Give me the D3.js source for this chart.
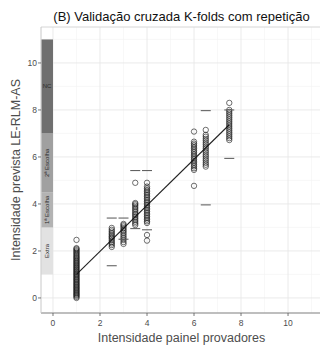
<!DOCTYPE html>
<html><head><meta charset="utf-8">
<script src="https://cdn.jsdelivr.net/npm/d3@7"></script>
<style>body{margin:0;background:#fff}svg{display:block;font-family:"Liberation Sans",Arial,sans-serif}</style>
</head><body><svg id="c" width="321" height="347"></svg>
<script>
const title = "(B) Validação cruzada K-folds com repetição";
const xTitle = "Intensidade painel provadores";
const yTitle = "Intensidade prevista LE-RLM-AS";
const xTicks = [0, 2, 4, 6, 8, 10];
const yTicks = [0, 2, 4, 6, 8, 10];

const bandLabels = ["Extra", "1ª Escolha", "2ª Escolha", "NC"];
const bandLow = [1, 3, 4.5, 7];
const bandHigh = [3, 4.5, 7, 11];
const bandColors = ["#e2e2e2", "#b3b3b3", "#a0a0a0", "#6f6f6f"];

const groupX = [1, 2.5, 3, 3.5, 4, 6, 6.5, 7.5];
const pred1 = [0.00,0.05,0.10,0.14,0.18,0.22,0.27,0.31,0.35,0.40,0.44,0.48,0.53,0.57,0.61,0.66,0.70,0.75,0.79,0.83,0.88,0.92,0.97,1.01,1.05,1.10,1.14,1.19,1.23,1.28,1.32,1.37,1.41,1.46,1.50,1.55,1.59,1.64,1.69,1.73,1.78,1.83,1.88,1.93,1.98,2.03,2.08,2.12,2.47];
const pred25 = [2.17,2.25,2.32,2.38,2.45,2.52,2.58,2.63,2.70,2.76,2.83,2.90,2.98];
const pred3 = [2.30,2.38,2.47,2.55,2.62,2.70,2.77,2.84,2.90,2.97,3.04,3.10,3.15];
const pred35 = [3.10,3.17,3.24,3.31,3.38,3.45,3.52,3.58,3.65,3.72,3.79,3.86,3.93,3.99,4.04,4.90];
const pred4 = [2.44,2.68,3.19,3.26,3.33,3.40,3.47,3.54,3.61,3.68,3.75,3.82,3.89,3.96,4.03,4.10,4.17,4.24,4.31,4.38,4.45,4.52,4.59,4.66,4.74,4.90];
const pred6 = [4.77,5.45,5.52,5.60,5.67,5.75,5.82,5.90,5.97,6.05,6.12,6.20,6.27,6.35,6.42,6.50,6.57,6.65,7.08];
const pred65 = [5.59,5.67,5.75,5.84,5.92,6.01,6.09,6.18,6.26,6.35,6.43,6.52,6.60,6.69,6.77,6.86,6.94,7.15];
const pred75 = [6.72,6.80,6.88,6.96,7.04,7.12,7.20,7.28,7.36,7.44,7.52,7.60,7.68,7.76,7.84,7.92,8.00,8.30];
const groupPreds = [pred1, pred25, pred3, pred35, pred4, pred6, pred65, pred75];

const dashX = [2.5, 2.5, 3, 3, 3.5, 3.5, 4, 4, 6.5, 6.5, 7.5, 7.5];
const dashY = [3.40, 1.37, 3.40, 2.50, 5.42, 2.95, 5.42, 2.90, 7.97, 3.96, 8.00, 5.94];

const fitX = [1, 7.5];
const fitY = [1.0, 7.37];

const svg = d3.select("#c");
const L = 41, R = 320, T = 27, B = 313;
const x = d3.scaleLinear().domain([-0.51, 11.36]).range([L, R]);
const y = d3.scaleLinear().domain([-0.64, 11.53]).range([B, T]);

svg.append("rect").attr("x", L).attr("y", T).attr("width", R - L).attr("height", B - T).attr("fill", "#fff");

// grid
const minorX = d3.range(1, 12, 2), minorY = d3.range(1, 12, 2);
const g = svg.append("g");
minorX.forEach(v => g.append("line").attr("x1", x(v)).attr("x2", x(v)).attr("y1", T).attr("y2", B).attr("stroke", "#f4f4f4").attr("stroke-width", 0.6));
minorY.forEach(v => g.append("line").attr("y1", y(v)).attr("y2", y(v)).attr("x1", L).attr("x2", R).attr("stroke", "#f4f4f4").attr("stroke-width", 0.6));
xTicks.forEach(v => g.append("line").attr("x1", x(v)).attr("x2", x(v)).attr("y1", T).attr("y2", B).attr("stroke", "#e8e8e8").attr("stroke-width", 0.9));
yTicks.forEach(v => g.append("line").attr("y1", y(v)).attr("y2", y(v)).attr("x1", L).attr("x2", R).attr("stroke", "#e8e8e8").attr("stroke-width", 0.9));

// bands
bandLabels.forEach((lab, i) => {
  svg.append("rect").attr("x", x(-0.5)).attr("width", x(0) - x(-0.5))
    .attr("y", y(bandHigh[i])).attr("height", y(bandLow[i]) - y(bandHigh[i]))
    .attr("fill", bandColors[i]);
  const cx = (x(-0.5) + x(0)) / 2, cy = y((bandLow[i] + bandHigh[i]) / 2);
  const t = svg.append("text").attr("font-size", 6).attr("fill", "#2a2a2a")
    .attr("text-anchor", "middle").attr("dominant-baseline", "central").text(lab);
  if (lab === "NC") t.attr("x", cx).attr("y", cy);
  else t.attr("transform", `translate(${cx},${cy}) rotate(-90)`);
});

// fit line
svg.append("line").attr("x1", x(fitX[0])).attr("y1", y(fitY[0])).attr("x2", x(fitX[1])).attr("y2", y(fitY[1]))
  .attr("stroke", "#222").attr("stroke-width", 1.1);

// points
groupX.forEach((gx, i) => {
  svg.append("g").selectAll("circle").data(groupPreds[i]).join("circle")
    .attr("cx", x(gx)).attr("cy", d => y(d)).attr("r", 2.7)
    .attr("fill", "none").attr("stroke", "#111").attr("stroke-width", 0.6);
});

// dashes
dashX.forEach((dx, i) => {
  svg.append("line").attr("x1", x(dx) - 5).attr("x2", x(dx) + 5).attr("y1", y(dashY[i])).attr("y2", y(dashY[i]))
    .attr("stroke", "#555").attr("stroke-width", 1);
});

// border
svg.append("line").attr("x1", L).attr("x2", R).attr("y1", T).attr("y2", T).attr("stroke", "#d6d6d6").attr("stroke-width", 1);
svg.append("line").attr("x1", L).attr("x2", R).attr("y1", B).attr("y2", B).attr("stroke", "#a8a8a8").attr("stroke-width", 1.3);
svg.append("line").attr("x1", L).attr("x2", L).attr("y1", T).attr("y2", B).attr("stroke", "#c8c8c8").attr("stroke-width", 1);

// ticks
xTicks.forEach(v => {
  svg.append("line").attr("x1", x(v)).attr("x2", x(v)).attr("y1", B).attr("y2", B + 3).attr("stroke", "#555").attr("stroke-width", 0.8);
  svg.append("text").attr("x", x(v)).attr("y", B + 13).attr("text-anchor", "middle").attr("font-size", 8.5).attr("fill", "#4d4d4d").text(v);
});
yTicks.forEach(v => {
  svg.append("line").attr("x1", L - 3).attr("x2", L).attr("y1", y(v)).attr("y2", y(v)).attr("stroke", "#555").attr("stroke-width", 0.8);
  svg.append("text").attr("x", L - 4).attr("y", y(v)).attr("dy", "0.35em").attr("text-anchor", "end").attr("font-size", 8.5).attr("fill", "#4d4d4d").text(v);
});

svg.append("text").attr("x", (L + R) / 2 + 1).attr("y", 21).attr("text-anchor", "middle").attr("font-size", 13).attr("fill", "#111").text(title);
svg.append("text").attr("x", (L + R) / 2 + 1).attr("y", 342).attr("text-anchor", "middle").attr("font-size", 12.5).attr("fill", "#4d4d4d").text(xTitle);
svg.append("text").attr("transform", `translate(20,${(T + B) / 2}) rotate(-90)`).attr("text-anchor", "middle").attr("font-size", 12.5).attr("fill", "#4d4d4d").text(yTitle);
</script></body></html>
